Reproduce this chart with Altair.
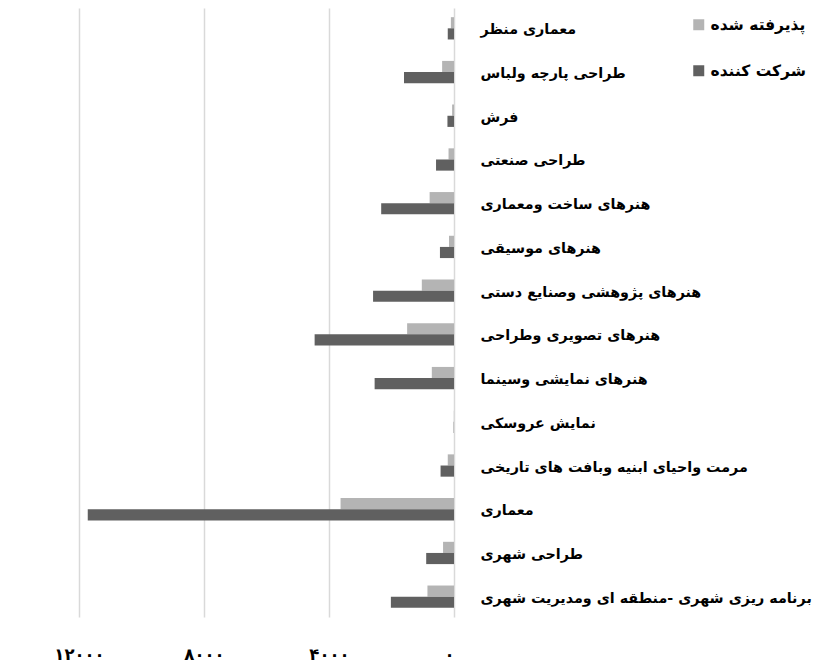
import altair as alt
import pandas as pd

categories = [
    "معماری منظر",
    "طراحی پارچه ولباس",
    "فرش",
    "طراحی صنعتی",
    "هنرهای ساخت ومعماری",
    "هنرهای موسیقی",
    "هنرهای پژوهشی وصنایع دستی",
    "هنرهای تصویری وطراحی",
    "هنرهای نمایشی وسینما",
    "نمایش عروسکی",
    "مرمت واحیای ابنیه وبافت های تاریخی",
    "معماری",
    "طراحی شهری",
    "برنامه ریزی شهری -منطقه ای ومدیریت شهری",
]
accepted = [100, 380, 60, 175, 780, 160, 1030, 1500, 710, 5, 200, 3630, 350, 850]
participants = [200, 1600, 210, 575, 2330, 450, 2590, 4460, 2540, 10, 430, 11720, 890, 2020]
series_names = ["پذیرفته شده", "شرکت کننده"]
series_colors = ["#b4b4b4", "#606060"]
tick_values = [0, 4000, 8000, 12000]
tick_labels = ["۰", "۴۰۰۰", "۸۰۰۰", "۱۲۰۰۰"]

rows = []
for c, a, p in zip(categories, accepted, participants):
    rows.append({"cat": c, "series": series_names[0], "value": a})
    rows.append({"cat": c, "series": series_names[1], "value": p})
df = pd.DataFrame(rows)

label_expr = " : ".join(
    f"datum.value == {v} ? '{l}'" for v, l in zip(tick_values, tick_labels)
) + " : ''"

FONT = "DejaVu Sans"

chart = alt.Chart(df).mark_bar().encode(
    x=alt.X(
        "value:Q",
        scale=alt.Scale(domain=[0, 14272], reverse=True, nice=False, zero=True),
        axis=alt.Axis(
            values=tick_values,
            labelExpr=label_expr,
            title=None,
            domain=False,
            ticks=False,
            grid=True,
            gridColor="#d9d9d9",
            gridWidth=1.5,
            labelPadding=29,
            labelFont=FONT,
            labelFontSize=16.5,
            labelFontWeight="bold",
            labelColor="#000000",
        ),
    ),
    y=alt.Y(
        "cat:N",
        sort=categories,
        scale=alt.Scale(paddingInner=0.49, paddingOuter=0.21),
        axis=alt.Axis(
            orient="right",
            title=None,
            domain=False,
            ticks=False,
            labelAlign="left",
            labelPadding=26,
            labelOffset=2,
            labelFont=FONT,
            labelFontSize=14.3,
            labelFontWeight="bold",
            labelColor="#000000",
            labelLimit=400,
        ),
    ),
    yOffset=alt.YOffset("series:N", sort=series_names, scale=alt.Scale(paddingInner=0)),
    color=alt.Color(
        "series:N",
        sort=series_names,
        scale=alt.Scale(domain=series_names, range=series_colors),
        legend=alt.Legend(
            title=None,
            orient="none",
            legendX=683,
            legendY=9,
            symbolType="square",
            symbolSize=121,
            symbolStrokeWidth=0,
            rowPadding=29,
            labelFont=FONT,
            labelFontSize=15.5,
            labelFontWeight="bold",
            labelColor="#000000",
            labelOffset=4,
        ),
    ),
).properties(
    width=446,
    height=609,
    padding=0,
    background="#ffffff",
).configure_view(
    stroke=None
)

chart.save("out.html", embed_options={"renderer": "svg", "actions": False})
